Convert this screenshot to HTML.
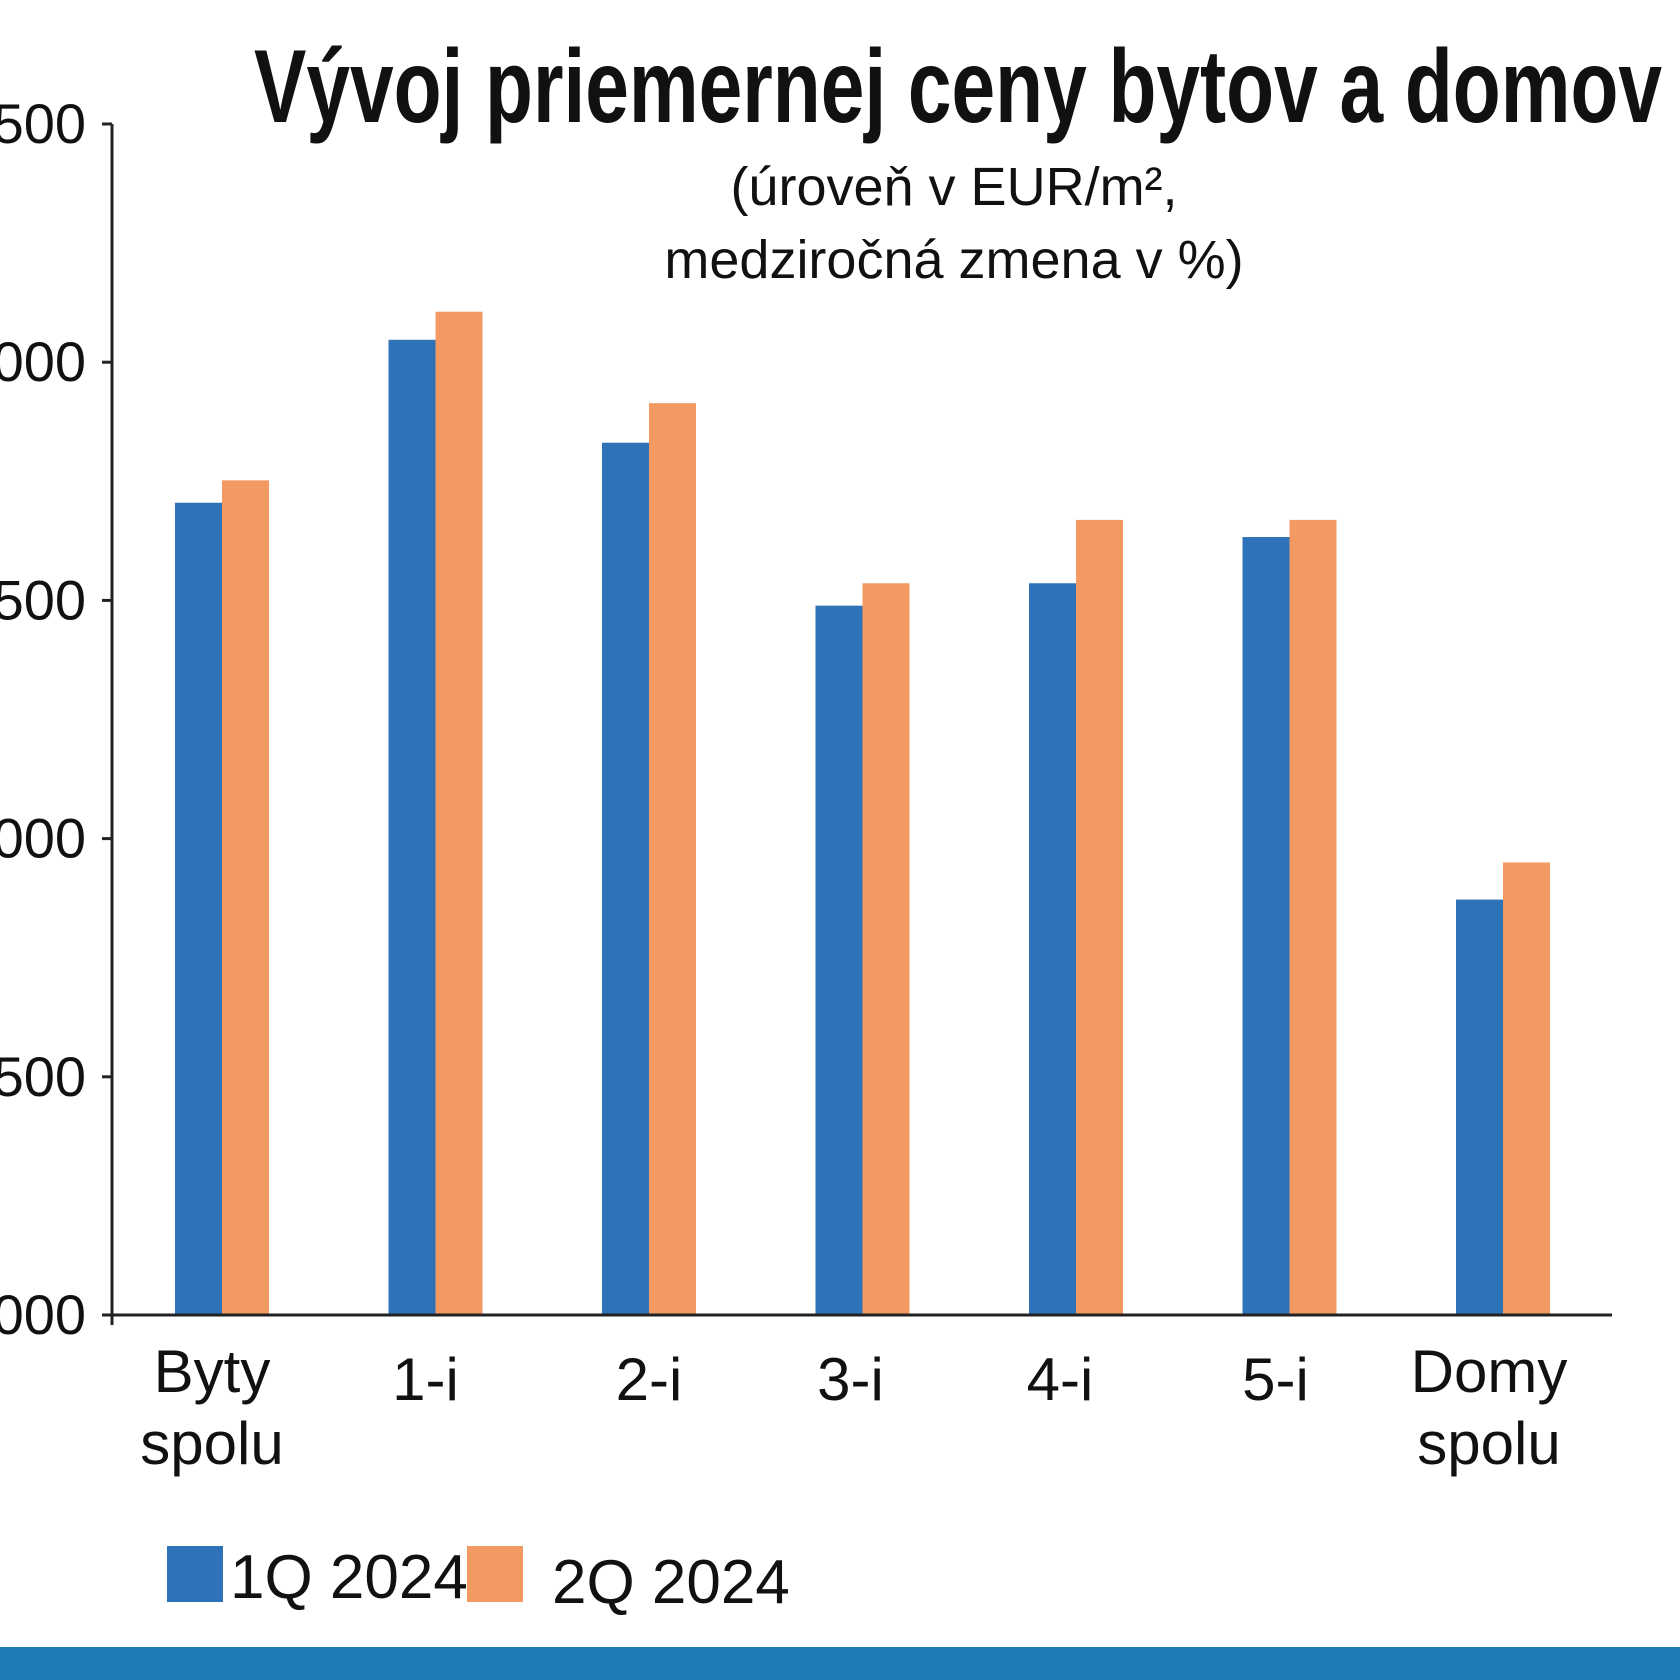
<!DOCTYPE html>
<html><head><meta charset="utf-8"><style>
html,body{margin:0;padding:0;background:#fff;}
svg{display:block;font-family:"Liberation Sans",sans-serif;}
.nar{font-family:"Liberation Sans Narrow","Liberation Sans",sans-serif;}
</style></head><body>
<svg id="chart" width="1680" height="1680" viewBox="0 0 1680 1680" xmlns="http://www.w3.org/2000/svg">
<text class="nar" x="254" y="122" font-size="104" font-weight="bold" fill="#111" textLength="1408" lengthAdjust="spacingAndGlyphs">Vývoj priemernej ceny bytov a domov</text>
<text x="954" y="205" font-size="54" fill="#111" text-anchor="middle">(úroveň v EUR/m², </text>
<text x="954" y="278" font-size="54" fill="#111" text-anchor="middle">medziročná zmena v %)</text>
<g id="plot"></g>
<rect x="167" y="1546" width="56" height="56" fill="#2e72b8"/>
<text class="nar" x="230" y="1598" font-size="62" fill="#111">1Q 2024</text>
<rect x="467" y="1546" width="56" height="56" fill="#f29a62"/>
<text class="nar" x="552" y="1603" font-size="62" fill="#111">2Q 2024</text>
<rect x="0" y="1647" width="1680" height="33" fill="#1f7bb4"/>
</svg>
<script>
const categories = [["Byty","spolu"],["1-i"],["2-i"],["3-i"],["4-i"],["5-i"],["Domy","spolu"]];
const series1Q = [2705, 3047, 2831, 2489, 2536, 2633, 1872];
const series2Q = [2752, 3106, 2914, 2536, 2669, 2669, 1950];
const tickValues = [1000, 1500, 2000, 2500, 3000, 3500];
const tickLabels = ["1000","1500","2000","2500","3000","3500"];

const NS="http://www.w3.org/2000/svg";
const g=document.getElementById('plot');
const x0=112, x1=1612, yBase=1315, yTop=124, vMin=1000, vMax=3500;
function y(v){return yBase-(v-vMin)/(vMax-vMin)*(yBase-yTop);}
const centers0=222, step=213.5;
function cx(i){return centers0+i*step;}
function mk(tag,attrs){const e=document.createElementNS(NS,tag);for(const k in attrs)e.setAttribute(k,attrs[k]);g.appendChild(e);return e;}

let e=mk('line',{x1:x0,y1:yTop,x2:x0,y2:yBase+10,stroke:'#222','stroke-width':3});


tickValues.forEach((v,i)=>{
  let t=mk('line',{x1:x0-10,y1:y(v),x2:x0,y2:y(v),stroke:'#222','stroke-width':3});
  
  
  let l=mk('text',{x:86,y:y(v)+19,'font-size':56,'text-anchor':'end',fill:'#111'});
  l.textContent=tickLabels[i];
  
  
});
const bw=47;
const labelShift=[-10,-10,0,-12,-16,-14,-14];
categories.forEach((c,i)=>{
  let b1=mk('rect',{x:cx(i)-bw,y:y(series1Q[i]),width:bw,height:yBase-y(series1Q[i]),fill:'#2e72b8'});
  
  
  let b2=mk('rect',{x:cx(i),y:y(series2Q[i]),width:bw,height:yBase-y(series2Q[i]),fill:'#f29a62'});
  
  
  c.forEach((line,j)=>{
    let t=mk('text',{class:'nar',x:cx(i)+labelShift[i],y:(c.length>1?1392:1400)+j*72,'font-size':60,'text-anchor':'middle',fill:'#111'});
    t.textContent=line;
    
    
  });
});
e=mk('line',{x1:x0,y1:yBase,x2:x1,y2:yBase,stroke:'#222','stroke-width':3});


</script>
</body></html>
